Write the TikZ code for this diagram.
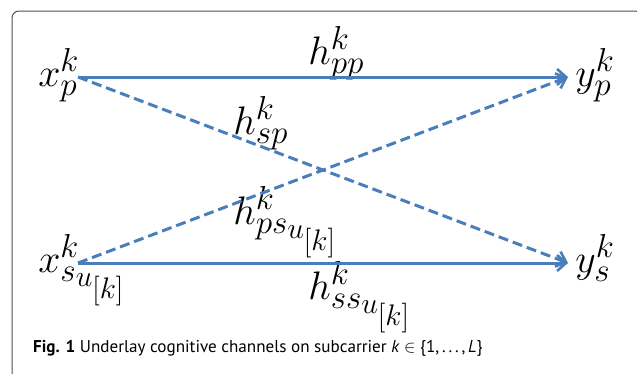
\RequirePackage{fix-cm}
\documentclass[tikz,border=0pt]{standalone}
\usepackage{fontspec}
\newfontfamily\capfont{PT Sans}
\usetikzlibrary{arrows.meta}
\DeclareMathSizes{24.88}{24.88}{20.74}{18.6}
\definecolor{chan}{RGB}{74,126,187}
\definecolor{framec}{RGB}{80,80,80}
\newcommand{\suk}{s_{u_{[k]}}}
\tikzset{
  lbl/.style={inner sep=0pt, anchor=base west, font=\Huge, scale=1.6},
  solidch/.style={draw=chan, line width=3pt, -{Straight Barb[length=9pt,width=16pt,line width=2.6pt]}},
  dashch/.style={solidch, dash pattern=on 10pt off 5pt},
}
\begin{document}
\begin{tikzpicture}[x=1pt,y=-1pt]
\useasboundingbox (0,0) rectangle (637,373);
\clip (0,0) rectangle (637,373);
\draw[framec, line width=1pt, rounded corners=7pt] (12,11) rectangle (642,400);
% end points
\coordinate (xpe) at (78,77);
\coordinate (xse) at (78,263);
\coordinate (ype) at (568,77);
\coordinate (yse) at (568,263);
% labels
\node[lbl] (xp) at (38,86) {$x_p^k$};
\node[lbl] (xs) at (38,272) {$x_{\suk}^k$};
\node[lbl] (yp) at (575,86) {$y_p^k$};
\node[lbl] (ys) at (575,272) {$y_s^k$};
\node[lbl] (hpp) at (308,64) {$h_{pp}^k$};
\node[lbl] (hsp) at (233,134) {$h_{sp}^k$};
\node[lbl] (hps) at (233,224) {$h_{p\suk}^k$};
\node[lbl] (hss) at (308,299) {$h_{s\suk}^k$};
% channels
\draw[solidch] (xpe) -- (ype);
\draw[solidch] (xse) -- (yse);
\draw[dashch] (xpe) -- (yse);
\draw[dashch] (xse) -- (ype);
% caption
\node[inner sep=0pt, anchor=base west, font=\capfont\fontsize{17.1}{20}\selectfont] (cap) at (33,352)
  {\textbf{Fig. 1} Underlay cognitive channels on subcarrier \textit{k} $\in$ \{1,\,.\,.\,.\,,\,\textit{L}\}};
\end{tikzpicture}
\end{document}
